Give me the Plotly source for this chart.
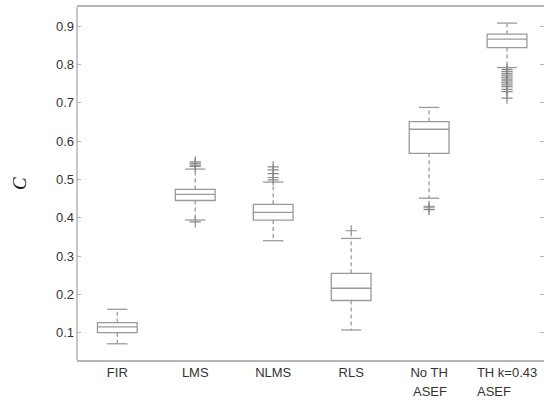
import plotly.graph_objects as go

# ---- data ----
categories = ["FIR", "LMS", "NLMS", "RLS", "No TH", "TH k=0.43"]
second_line = ["", "", "", "", "ASEF", "ASEF"]
lower_whisker = [0.071, 0.394, 0.340, 0.107, 0.451, 0.792]
q1_vals       = [0.100, 0.445, 0.394, 0.184, 0.568, 0.844]
median_vals   = [0.115, 0.461, 0.414, 0.216, 0.631, 0.866]
q3_vals       = [0.126, 0.474, 0.435, 0.255, 0.651, 0.879]
upper_whisker = [0.161, 0.527, 0.493, 0.346, 0.688, 0.908]
outliers = [
    [],
    [0.546, 0.541, 0.537, 0.534, 0.389],
    [0.533, 0.525, 0.515, 0.505, 0.499],
    [0.366],
    [0.430, 0.426, 0.421],
    [0.787, 0.782, 0.777, 0.772, 0.767, 0.762, 0.757, 0.752, 0.747,
     0.742, 0.735, 0.729, 0.712],
]
y_ticks = [0.1, 0.2, 0.3, 0.4, 0.5, 0.6, 0.7, 0.8, 0.9]

# ---- styles ----
BOX_W = 0.51
CAP_HALF = 0.13
GRAY = "#9a9a9a"
AXIS = "#b5b5b5"
TXT = "#333333"
FONT = "Liberation Sans"

pos = list(range(1, len(categories) + 1))
fig = go.Figure()

# boxes (no whiskers; fences collapsed onto the box)
for i, p in enumerate(pos):
    fig.add_trace(go.Box(
        x=[p], q1=[q1_vals[i]], median=[median_vals[i]], q3=[q3_vals[i]],
        lowerfence=[q1_vals[i]], upperfence=[q3_vals[i]],
        width=BOX_W, whiskerwidth=0, fillcolor="rgba(0,0,0,0)",
        line=dict(color=GRAY, width=1.3), boxpoints=False,
        showlegend=False, hoverinfo="skip"))

# dashed whiskers
wx, wy = [], []
for i, p in enumerate(pos):
    wx += [p, p, None, p, p, None]
    wy += [q3_vals[i], upper_whisker[i], None, q1_vals[i], lower_whisker[i], None]
fig.add_trace(go.Scatter(x=wx, y=wy, mode="lines",
                         line=dict(color=GRAY, width=1.3, dash="4px,3px"),
                         showlegend=False, hoverinfo="skip"))

# caps
cx, cy = [], []
for i, p in enumerate(pos):
    cx += [p - CAP_HALF, p + CAP_HALF, None, p - CAP_HALF, p + CAP_HALF, None]
    cy += [upper_whisker[i], upper_whisker[i], None, lower_whisker[i], lower_whisker[i], None]
fig.add_trace(go.Scatter(x=cx, y=cy, mode="lines",
                         line=dict(color=GRAY, width=1.3),
                         showlegend=False, hoverinfo="skip"))

# outliers
ox, oy = [], []
for i, p in enumerate(pos):
    for v in outliers[i]:
        ox.append(p)
        oy.append(v)
fig.add_trace(go.Scatter(x=ox, y=oy, mode="markers",
                         marker=dict(symbol="cross-thin", size=8,
                                     line=dict(color="#8a8a8a", width=1.2)),
                         showlegend=False, hoverinfo="skip"))

annotations = []
# second lines of the tick labels (left aligned with first line)
left_edges = {4: 4.77, 5: 5.59}
for i, t in enumerate(second_line):
    if t:
        annotations.append(dict(text=t, x=left_edges[i], y=-0.088, xref="x", yref="paper",
                                xanchor="left", yanchor="middle", showarrow=False,
                                font=dict(family=FONT, size=13, color=TXT)))
# y-axis title
annotations.append(dict(text="<i>C</i>", x=-0.123, y=0.5, xref="paper", yref="paper",
                        xanchor="center", yanchor="middle", textangle=-90, showarrow=False,
                        font=dict(family="Liberation Serif", size=19, color="#111111")))

fig.update_layout(
    width=544, height=400,
    margin=dict(l=77, r=0, t=7, b=40),
    paper_bgcolor="white", plot_bgcolor="white",
    annotations=annotations,
    shapes=[dict(type="line", xref="paper", yref="paper", x0=0, x1=0, y0=0, y1=1,
                 line=dict(color=AXIS, width=1.5))],
    xaxis=dict(range=[0.483, 6.474], tickmode="array", tickvals=pos, ticktext=categories,
               showgrid=False, zeroline=False, showline=True, mirror=True,
               linecolor=AXIS, linewidth=1.5, ticks="",
               tickfont=dict(family=FONT, size=13, color=TXT)),
    yaxis=dict(range=[0.0287, 0.950], tickmode="array", tickvals=y_ticks,
               ticktext=[f"{v:.1f}" for v in y_ticks],
               showgrid=False, zeroline=False, showline=False, mirror="ticks",
               ticks="inside", ticklen=4, tickcolor=AXIS, tickwidth=1,
               ticklabelstandoff=2,
               tickfont=dict(family=FONT, size=13, color=TXT)),
)

fig.write_html("out.html", config={"displayModeBar": False},
               post_script="document.body.style.margin='0';document.body.style.overflow='hidden';")
